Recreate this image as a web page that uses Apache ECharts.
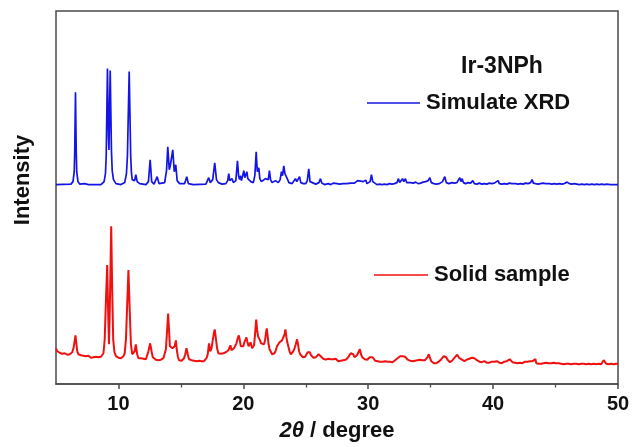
<!DOCTYPE html>
<html>
<head>
<meta charset="utf-8">
<script src="https://cdn.jsdelivr.net/npm/echarts@6/dist/echarts.min.js"></script>
<style>
  html, body { margin: 0; padding: 0; background: #fff; }
  #chart { width: 633px; height: 447px; }
</style>
</head>
<body>
<div id="chart"></div>
<script>
// Powder XRD of Ir-3NPh: simulated pattern (offset upward) and measured solid sample.
// Each point is [2θ (degree), intensity (a.u., offset included)].
const simulatedXRD = [
  [5.0,201],[6.2,201.5],[6.36,204],[6.46,214],[6.5,235],[6.56,294],[6.62,235],[6.66,214],[6.76,204],[6.9,201.5],[7.3,202],[7.6,201],
  [8.6,201],[8.85,204],[8.96,212],[9.02,230],[9.12,318],[9.2,250],[9.24,236],[9.34,316],[9.44,235],[9.5,215],[9.6,206],[9.8,202],
  [10.2,201],[10.5,203],[10.64,212],[10.72,230],[10.86,315],[10.98,230],[11.04,213],[11.1,206],[11.22,208],[11.3,205],[11.39,211],[11.5,204],
  [11.7,202],[12.2,201],[12.4,204],[12.54,226],[12.66,204],[12.85,201.5],[13.0,203],[13.1,209],[13.25,202],[13.7,203],
  [13.85,215],[13.95,239],[14.07,216],[14.15,220],[14.35,236],[14.47,214],[14.59,221],[14.7,205],[14.9,202],[15.3,202],
  [15.47,209],[15.6,202],[16.0,201],[17.0,201.5],[17.23,208],[17.35,203],[17.55,206],[17.71,223],[17.85,206],[18.0,203],
  [18.3,201.5],[18.6,202],[18.75,205],[18.83,212],[18.92,205],[19.0,204],[19.1,207],[19.2,203],[19.4,205],[19.53,225],
  [19.62,210],[19.7,206],[19.77,210],[19.85,205],[19.95,207],[20.04,215],[20.12,208],[20.2,207],[20.28,214],[20.36,207],
  [20.45,206],[20.52,209],[20.6,204],[20.8,203],[20.92,210],[21.03,234],[21.12,214],[21.18,213],[21.24,218],[21.32,207],
  [21.45,204],[21.6,203],[21.77,207],[21.88,205],[22.0,206],[22.09,215],[22.18,206],[22.3,203],[22.45,202],[22.57,205],
  [22.65,203],[22.8,203],[22.95,206],[23.05,214],[23.14,210],[23.24,220],[23.33,212],[23.45,214],[23.55,206],[23.65,203],
  [23.78,205],[23.9,202],[24.05,203],[24.17,207],[24.28,204],[24.4,205],[24.5,209],[24.6,203],[24.8,202],[25.0,202],
  [25.12,205],[25.24,217],[25.34,204],[25.5,202],[25.8,201.5],[26.05,203],[26.18,207],[26.28,202.5],[26.5,201],[26.8,202],
  [27.0,201],[27.2,202.5],[27.35,201],[27.5,202],[27.7,201.5],[27.85,203],[28.0,202],[28.15,203.5],[28.3,202],[28.45,204],
  [28.6,202.5],[28.75,204.5],[28.9,202.5],[29.05,203],[29.15,205],[29.25,203],[29.4,204.5],[29.5,202.5],[29.6,204],[29.7,203],
  [29.8,205.5],[29.9,202],[30.05,202],[30.15,204],[30.26,211],[30.36,204],[30.5,202],[30.7,201],[30.9,201.5],[31.1,201],
  [31.3,201.5],[31.5,201],[31.7,202],[31.9,201.5],[32.1,202],[32.3,203],[32.42,207],[32.52,203],[32.65,205],[32.75,207],
  [32.85,204],[32.98,207],[33.08,203],[33.2,202],[33.4,203],[33.6,202.5],[33.8,203.5],[34.0,202],[34.2,202.5],[34.4,203.5],
  [34.6,204],[34.8,205],[34.93,208],[35.05,203],[35.25,202],[35.45,201.5],[35.7,202],[35.95,204],[36.13,209],[36.25,203],
  [36.45,202],[36.7,203],[36.9,202.5],[37.1,203],[37.22,205],[37.33,208],[37.42,204],[37.52,207],[37.62,203],[37.8,202],
  [38.0,203],[38.2,202.5],[38.37,205],[38.5,202],[38.7,201.5],[38.9,202.5],[39.1,201.5],[39.3,202],[39.5,201.5],[39.7,202.5],
  [39.9,202],[40.1,202.5],[40.25,202],[40.4,205],[40.5,202],[40.7,201.5],[40.9,202],[41.1,201.5],[41.3,202.5],[41.5,202],
  [41.65,204],[41.78,202],[42.0,201.5],[42.2,202],[42.4,201.5],[42.6,202.5],[42.8,202],[43.0,203],[43.12,206],[43.22,202.5],
  [43.4,202],[43.6,201.5],[43.8,202],[44.0,202.5],[44.2,202],[44.33,203.5],[44.5,202],[44.7,201.5],[44.9,202],[45.1,201.5],
  [45.3,202],[45.5,201.5],[45.7,202],[45.93,203.5],[46.1,202],[46.3,201.5],[46.5,202],[46.7,201.5],[46.9,201],[47.1,201.5],
  [47.3,201],[47.5,201.5],[47.7,201],[47.9,201.5],[48.1,201],[48.3,201.5],[48.5,201],[48.7,201.5],[48.9,201],[49.1,201.5],
  [49.25,202.5],[49.4,201],[49.55,202.5],[49.7,201],[49.85,202],[50.0,201]
];

const solidSample = [
  [5.0,36],[5.1,33],[5.2,31],[5.3,31.5],[5.4,29.5],[5.5,30.5],[5.6,29],[5.7,31],[5.8,30],[5.9,29.5],
  [6.0,31],[6.1,30],[6.2,31],[6.3,32],[6.4,36],[6.5,44],[6.56,49],[6.62,42],[6.7,33],[6.8,30],
  [6.9,28],[7.0,29],[7.1,27.5],[7.2,28.5],[7.3,27],[7.4,28],[7.5,27],[7.6,28.5],[7.7,27],[7.8,26.5],
  [7.9,28],[8.0,27],[8.1,26],[8.2,27.5],[8.3,26.5],[8.4,27],[8.5,26],[8.6,27.5],[8.7,28],[8.8,31],
  [8.9,45],[9.0,85],[9.1,120],[9.17,75],[9.24,40],[9.3,70],[9.42,159],[9.5,95],[9.58,45],[9.68,32],
  [9.8,28],[9.9,27],[10.0,26.5],[10.1,27],[10.2,26],[10.3,27],[10.4,28],[10.5,31],[10.6,45],[10.7,80],
  [10.8,115],[10.9,75],[11.0,40],[11.1,30],[11.2,29],[11.3,33],[11.39,40],[11.5,30],[11.6,26],[11.7,25],
  [11.8,26],[11.9,24.5],[12.0,25.5],[12.1,24],[12.2,25],[12.3,27],[12.4,33],[12.54,41],[12.65,33],[12.75,27],
  [12.85,25],[13.0,24.5],[13.1,25.5],[13.2,24],[13.3,25],[13.4,24.5],[13.5,25],[13.6,26],[13.7,28],[13.8,35],
  [13.9,55],[13.98,71],[14.06,52],[14.12,38],[14.18,36],[14.25,40],[14.32,36],[14.4,35],[14.5,38],[14.6,44],
  [14.66,36],[14.75,28],[14.85,24],[14.95,25],[15.05,23.5],[15.15,24.5],[15.25,26],[15.35,30],[15.45,36],[15.55,30],
  [15.65,25],[15.75,23],[15.85,24],[15.95,22.5],[16.05,23.5],[16.15,22.5],[16.25,23],[16.35,22],[16.45,23.5],[16.55,22.5],
  [16.65,23],[16.75,24],[16.85,23],[16.95,24.5],[17.05,26],[17.15,30],[17.25,41],[17.35,33],[17.45,36],[17.55,44],
  [17.65,52],[17.71,55],[17.8,46],[17.9,36],[18.0,31],[18.1,29],[18.2,30.5],[18.3,29],[18.4,31],[18.5,30],
  [18.6,32],[18.7,31],[18.8,34],[18.9,33],[18.97,39],[19.05,34],[19.15,33],[19.25,36],[19.35,35],[19.45,41],
  [19.55,46],[19.64,49],[19.72,44],[19.8,38],[19.9,36],[20.0,38],[20.08,42],[20.16,40],[20.25,47],[20.33,42],
  [20.42,38],[20.5,40],[20.58,42],[20.63,42],[20.7,36],[20.78,35],[20.86,39],[20.95,52],[21.03,65],[21.1,55],
  [21.18,48],[21.26,50],[21.34,44],[21.42,41],[21.5,40],[21.58,43],[21.66,40],[21.75,45],[21.82,52],[21.88,56],
  [21.95,48],[22.02,40],[22.1,35],[22.2,33],[22.3,30],[22.4,29],[22.5,31],[22.6,34],[22.7,38],[22.8,40],
  [22.9,42],[23.0,41],[23.1,44],[23.2,47],[23.3,50],[23.37,55],[23.45,47],[23.52,42],[23.6,38],[23.7,33],
  [23.8,30],[23.9,31],[24.0,33],[24.1,36],[24.2,40],[24.3,45],[24.38,40],[24.46,33],[24.55,30],[24.65,28],
  [24.75,27],[24.85,28.5],[24.95,27.5],[25.05,29],[25.15,32],[25.24,34],[25.32,32],[25.42,29],[25.52,27],[25.62,26.5],
  [25.72,28],[25.82,27],[25.92,29],[26.02,30],[26.1,30],[26.2,28],[26.3,27],[26.4,25.5],[26.5,26],[26.6,24.5],
  [26.7,25],[26.8,25.5],[26.9,24],[27.0,25],[27.1,23.5],[27.2,25],[27.3,24],[27.4,25.5],[27.5,24],[27.6,23],
  [27.7,24.5],[27.8,23.5],[27.9,25],[28.0,24],[28.1,25.5],[28.2,24.5],[28.3,26],[28.4,27],[28.5,29],[28.6,31],
  [28.7,32],[28.8,30],[28.9,27],[29.0,28],[29.1,29],[29.2,31],[29.33,35],[29.42,30],[29.52,27],[29.62,26],
  [29.72,25],[29.82,25.5],[29.92,24.5],[30.02,26],[30.12,27],[30.26,29],[30.35,27],[30.45,25],[30.55,23.5],[30.65,22.5],
  [30.75,23],[30.85,22],[30.95,22.5],[31.05,21.5],[31.15,22.5],[31.25,22],[31.35,23],[31.45,22],[31.55,22.5],[31.65,21.5],
  [31.75,22.5],[31.85,23],[31.95,22],[32.05,23.5],[32.15,24],[32.25,25],[32.35,26],[32.45,27],[32.55,28],[32.65,27.5],
  [32.75,28],[32.85,29],[32.95,27.5],[33.05,26],[33.15,24.5],[33.25,23],[33.35,23.5],[33.45,22.5],[33.55,23],[33.65,22],
  [33.75,23.5],[33.85,23],[33.95,24],[34.05,23],[34.15,24.5],[34.25,23.5],[34.35,24],[34.45,23],[34.55,24],[34.65,25],
  [34.75,27],[34.85,30],[34.95,26],[35.05,23],[35.15,22],[35.25,21],[35.35,21.5],[35.45,21],[35.55,22],[35.65,22.5],
  [35.75,23.5],[35.85,25],[35.95,26.5],[36.05,28],[36.15,29],[36.25,27],[36.35,24.5],[36.45,23],[36.55,22],[36.65,22.5],
  [36.75,24],[36.85,25.5],[36.95,27],[37.05,28.5],[37.12,29.5],[37.2,28],[37.3,26],[37.4,25],[37.5,24.5],[37.6,24],
  [37.7,23],[37.8,23.5],[37.9,24.5],[38.0,25],[38.1,25.5],[38.2,26],[38.3,26.5],[38.4,27],[38.5,26],[38.6,25],
  [38.7,24],[38.8,23],[38.9,22.5],[39.0,23],[39.1,22],[39.2,22.5],[39.3,23],[39.4,22],[39.5,21.5],[39.6,22.5],
  [39.7,21.5],[39.8,22],[39.9,22.5],[40.0,21.5],[40.1,22.5],[40.2,22],[40.3,23],[40.4,22],[40.5,21.5],[40.6,22],
  [40.7,21],[40.8,22],[40.9,22.5],[41.0,22],[41.1,23],[41.2,24],[41.33,25],[41.45,23],[41.55,22],[41.65,22.5],
  [41.75,21.5],[41.85,22],[41.95,21],[42.05,22],[42.15,21.5],[42.25,22],[42.35,21],[42.45,22],[42.55,22.5],[42.65,21.5],
  [42.75,22.5],[42.85,22],[42.95,23],[43.05,22.5],[43.15,23],[43.25,24],[43.39,25],[43.45,21],[43.55,20],[43.65,20.5],
  [43.75,19.5],[43.85,20.5],[43.95,20],[44.05,21],[44.15,20],[44.25,21.5],[44.35,20.5],[44.45,21],[44.55,20],[44.65,21],
  [44.75,20.5],[44.85,21.5],[44.95,20.5],[45.05,21],[45.15,20],[45.25,21],[45.35,21.5],[45.45,20.5],[45.55,21],[45.65,20],
  [45.75,21],[45.85,20.5],[45.95,21.5],[46.05,20.5],[46.15,21],[46.25,20],[46.35,21],[46.45,20.5],[46.55,21.5],[46.65,20.5],
  [46.75,21],[46.85,20],[46.95,21],[47.05,20.5],[47.15,21.5],[47.25,20.5],[47.35,21],[47.45,20],[47.55,21],[47.65,20.5],
  [47.75,21],[47.85,20],[47.95,21.5],[48.05,20.5],[48.15,21],[48.25,20],[48.35,21],[48.45,20.5],[48.55,21],[48.65,20],
  [48.75,22],[48.85,24],[48.95,22],[49.05,20.5],[49.15,21],[49.25,20],[49.35,21.5],[49.45,20.5],[49.55,21],[49.65,20],
  [49.75,21],[49.85,20.5],[49.95,21],[50.0,20.5]
];

const xRange = [5, 50];
const majorTicks = [10, 20, 30, 40, 50];
const minorTicks = [15, 25, 35, 45];
const seriesNames = ['Simulate XRD', 'Solid sample'];
const sampleLabel = 'Ir-3NPh';

const FONT = "'Liberation Sans', Arial, sans-serif";
const AXIS_COLOR = '#4a4a4a';
const chart = echarts.init(document.getElementById('chart'), null, { renderer: 'canvas' });

chart.setOption({
  animation: false,
  backgroundColor: '#ffffff',
  grid: {
    left: 56, right: 15, top: 11, bottom: 60,
    show: true, borderColor: AXIS_COLOR, borderWidth: 1.5, backgroundColor: 'transparent'
  },
  xAxis: [
    {
      type: 'value', min: xRange[0], max: xRange[1], position: 'bottom',
      splitLine: { show: false },
      axisLine: { show: true, lineStyle: { color: AXIS_COLOR, width: 1.5 } },
      axisTick: { show: true, inside: false, length: 5, customValues: majorTicks,
                  lineStyle: { color: AXIS_COLOR, width: 1.5 } },
      axisLabel: { customValues: majorTicks, margin: 10, color: '#111',
                   fontFamily: FONT, fontWeight: 'bold', fontSize: 20 },
      name: '{i|2θ} / degree', nameLocation: 'middle', nameGap: 36,
      nameTextStyle: {
        fontFamily: FONT, fontWeight: 'bold', fontSize: 22, color: '#111',
        rich: { i: { fontFamily: FONT, fontWeight: 'bold', fontStyle: 'italic', fontSize: 22, color: '#111' } }
      }
    },
    {
      type: 'value', min: xRange[0], max: xRange[1], position: 'bottom',
      splitLine: { show: false },
      axisLine: { show: false },
      axisTick: { show: true, inside: false, length: 3.5, customValues: minorTicks,
                  lineStyle: { color: AXIS_COLOR, width: 1.3 } },
      axisLabel: { show: false }
    }
  ],
  yAxis: { type: 'value', min: 0, max: 376, show: false },
  legend: [
    {
      data: [seriesNames[0]], left: 367, top: 92, padding: 0,
      icon: 'rect', itemWidth: 53, itemHeight: 1.5, itemGap: 0,
      textStyle: { fontFamily: FONT, fontWeight: 'bold', fontSize: 22, color: '#111', padding: [0, 0, 0, 1] }
    },
    {
      data: [seriesNames[1]], left: 374, top: 264, padding: 0,
      icon: 'rect', itemWidth: 54, itemHeight: 1.5, itemGap: 0,
      textStyle: { fontFamily: FONT, fontWeight: 'bold', fontSize: 22, color: '#111', padding: [0, 0, 0, 1] }
    }
  ],
  graphic: [
    {
      type: 'text', x: 502, y: 67,
      style: { text: sampleLabel, fontFamily: FONT, fontWeight: 'bold', fontSize: 23,
               fill: '#111', align: 'center', verticalAlign: 'middle' }
    },
    {
      type: 'text', x: 23, y: 180, rotation: Math.PI / 2,
      style: { text: 'Intensity', fontFamily: FONT, fontWeight: 'bold', fontSize: 22,
               fill: '#111', align: 'center', verticalAlign: 'middle' }
    }
  ],
  series: [
    {
      name: seriesNames[0], type: 'line', data: simulatedXRD, xAxisIndex: 0,
      showSymbol: false, smooth: false, clip: true,
      lineStyle: { color: '#1414e6', width: 1.7 }, itemStyle: { color: '#1414e6' }
    },
    {
      name: seriesNames[1], type: 'line', data: solidSample, xAxisIndex: 0,
      showSymbol: false, smooth: false, clip: true,
      lineStyle: { color: '#f01010', width: 2 }, itemStyle: { color: '#f01010' }
    }
  ]
});
</script>
</body>
</html>
